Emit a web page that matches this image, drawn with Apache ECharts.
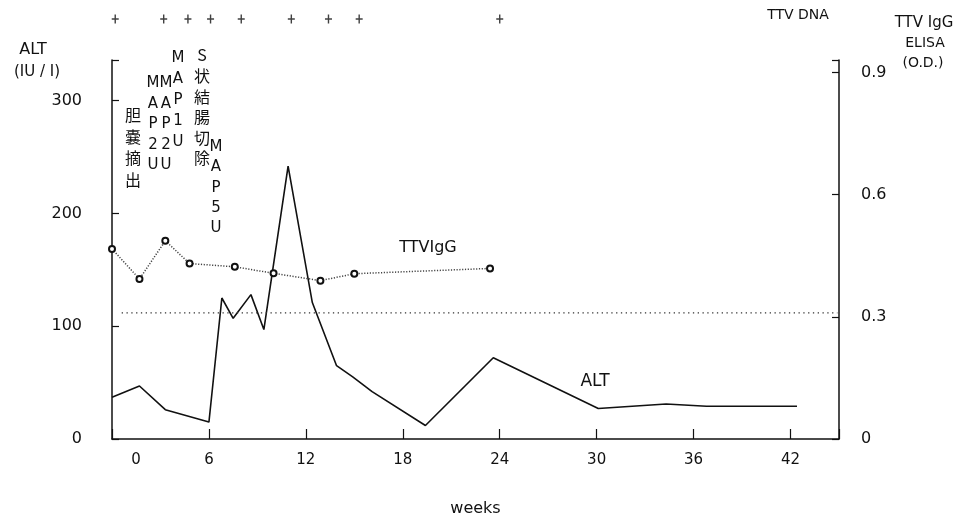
<!DOCTYPE html>
<html>
<head>
<meta charset="utf-8">
<script src="https://cdn.jsdelivr.net/npm/echarts@6/dist/echarts.min.js"></script>
<style>html,body{margin:0;padding:0;background:#fff}#c{width:973px;height:522px}</style>
</head>
<body>
<div id="c"></div>
<script>
// ---- data ----
var altWeeks  = [0, 1.7, 3.3, 6.0, 6.8, 7.5, 8.6, 9.4, 10.9, 12.4, 13.9, 14.9, 16.1, 19.4, 23.6, 30.1, 34.3, 36.8, 42.4];
var altValues = [37, 47, 26, 15, 125, 107, 128, 97, 242, 121, 65, 55, 42, 12, 72, 27, 31, 29, 29];
var iggWeeks  = [0, 1.7, 3.3, 4.8, 7.6, 10.0, 12.9, 15.0, 23.4];
var iggValues = [0.467, 0.393, 0.487, 0.431, 0.423, 0.407, 0.389, 0.406, 0.419];
var cutoffWeeks = [0.6, 44.9];
var cutoffValue = 0.31;
var dnaWeeks = [0.2, 3.2, 4.7, 6.1, 8.0, 11.1, 13.4, 15.3, 24.0];
var weekTicks = [0, 6, 12, 18, 24, 30, 36, 42];
var altTicks = [0, 100, 200, 300];
var odTicks = [0, 0.3, 0.6, 0.9];

var FONT = 'DejaVu Sans';
var CJK = '"Noto Sans CJK JP"';
var INK = '#111';

function pairs(xs, ys) { return xs.map(function (x, i) { return [x, ys[i]]; }); }
function isTick(list, v) { return list.some(function (t) { return Math.abs(t - v) < 1e-6; }); }

var chart = echarts.init(document.getElementById('c'), null, {renderer: 'canvas'});

function vtext(str, x, top, size, lh, font) {
  return {
    type: 'text', x: x, y: top,
    style: {text: str.split('').join('\n'), font: size + 'px ' + font, fill: INK,
            align: 'center', verticalAlign: 'top', lineHeight: lh}
  };
}
function htext(str, x, y, size) {
  return {type: 'text', x: x, y: y,
          style: {text: str, font: size + 'px ' + FONT, fill: INK, align: 'center', verticalAlign: 'middle'}};
}

var option = {
  animation: false,
  backgroundColor: '#fff',
  grid: [
    {left: 112, right: 134, top: 60, bottom: 76},
    {left: 112, right: 134, top: 10, height: 18}
  ],
  xAxis: [
    {
      type: 'value', gridIndex: 0, min: 0, max: 45, interval: 6,
      name: 'weeks', nameLocation: 'middle', nameGap: 62,
      nameTextStyle: {fontFamily: FONT, fontSize: 16, color: INK},
      axisLine: {show: true, lineStyle: {color: INK, width: 1.5}},
      axisTick: {show: true, inside: true, length: 10, lineStyle: {color: INK, width: 1.2}},
      splitLine: {show: false},
      axisLabel: {
        margin: 14, fontFamily: FONT, fontSize: 15, color: INK,
        formatter: function (v) {
          if (!isTick(weekTicks, v)) return '';
          return v === 0 ? '{z|0}' : String(v);
        },
        rich: {z: {padding: [0, 0, 0, 48], fontFamily: FONT, fontSize: 15, color: INK}}
      }
    },
    {type: 'value', gridIndex: 1, min: 0, max: 45, show: false}
  ],
  yAxis: [
    {
      type: 'value', gridIndex: 0, position: 'left', min: 0, max: 336, interval: 100,
      axisLine: {show: true, lineStyle: {color: INK, width: 1.5}},
      axisTick: {show: true, inside: true, length: 7, lineStyle: {color: INK, width: 1.2}},
      splitLine: {show: false},
      axisLabel: {
        margin: 30, fontFamily: FONT, fontSize: 16, color: INK,
        formatter: function (v) { return isTick(altTicks, v) ? String(v) : ''; }
      }
    },
    {
      type: 'value', gridIndex: 0, position: 'right', min: 0, max: 0.931, interval: 0.3,
      axisLine: {show: true, lineStyle: {color: INK, width: 1.5}},
      axisTick: {show: true, inside: true, length: 7, lineStyle: {color: INK, width: 1.2}},
      splitLine: {show: false},
      axisLabel: {
        margin: 22, fontFamily: FONT, fontSize: 16, color: INK,
        formatter: function (v) {
          if (!isTick(odTicks, v)) return '';
          return v === 0 ? '0' : v.toFixed(1);
        }
      }
    },
    {type: 'value', gridIndex: 1, min: 0, max: 1, show: false}
  ],
  series: [
    {
      name: 'ALT', type: 'line', xAxisIndex: 0, yAxisIndex: 0,
      data: pairs(altWeeks, altValues), symbol: 'none',
      lineStyle: {color: INK, width: 1.6}
    },
    {
      name: 'TTVIgG', type: 'line', xAxisIndex: 0, yAxisIndex: 1,
      data: pairs(iggWeeks, iggValues), symbol: 'emptyCircle', symbolSize: 6,
      showAllSymbol: true,
      itemStyle: {color: INK, borderColor: INK, borderWidth: 1.3},
      lineStyle: {color: '#444', width: 1.5, type: [1.2, 1.6]}
    },
    {
      name: 'cutoff', type: 'line', xAxisIndex: 0, yAxisIndex: 1,
      data: cutoffWeeks.map(function (w) { return [w, cutoffValue]; }), symbol: 'none',
      lineStyle: {color: '#333', width: 1.3, type: [1.3, 3.5]}
    },
    {
      name: 'TTV DNA', type: 'scatter', xAxisIndex: 1, yAxisIndex: 2,
      data: dnaWeeks.map(function (w) { return [w, 0.5]; }),
      symbol: 'path://M-0.6,-4H0.6V-0.6H3V0.6H0.6V4H-0.6V0.6H-3V-0.6H-0.6Z',
      symbolSize: [7, 9], itemStyle: {color: INK}
    }
  ],
  graphic: [
    htext('ALT', 33, 50, 16),
    htext('(IU / I)', 37, 72, 15),
    htext('TTV DNA', 798, 15, 14),
    htext('TTV IgG', 924, 23, 15),
    htext('ELISA', 925, 43, 14),
    htext('(O.D.)', 923, 63, 14),
    htext('TTVIgG', 428, 248, 16),
    htext('ALT', 595, 382, 17),
    vtext('胆嚢摘出', 133, 104, 16, 21.7, CJK),
    vtext('MAP2U', 153, 73, 15, 20.5, FONT),
    vtext('MAP2U', 166, 73, 15, 20.5, FONT),
    vtext('MAP1U', 178, 48, 15, 21, FONT),
    vtext('S状結腸切除', 202, 45, 16, 20.6, CJK),
    vtext('MAP5U', 216, 137, 15, 20.3, FONT)
  ]
};
chart.setOption(option);
</script>
</body>
</html>
